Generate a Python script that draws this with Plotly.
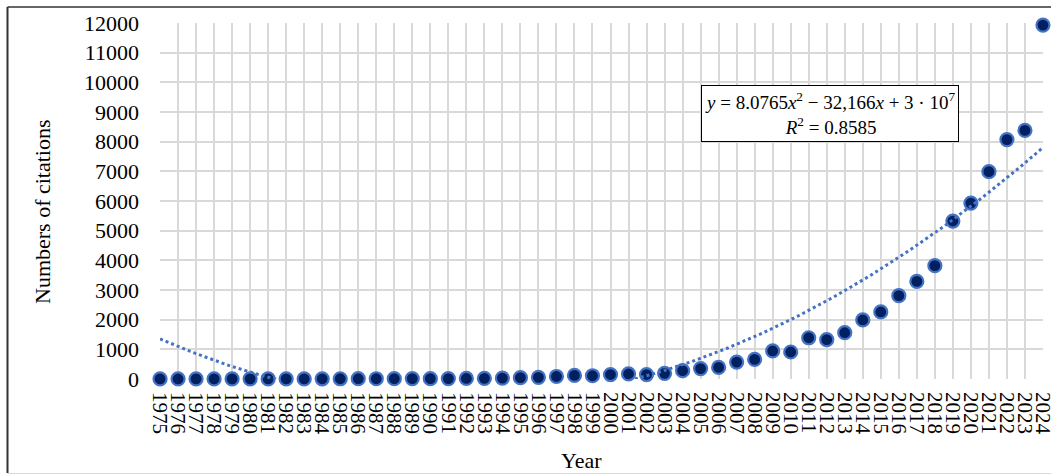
import numpy as np
import plotly.graph_objects as go

years = list(range(1975, 2025))
citations = [2, 1, 3, 2, 4, 5, 3, 6, 4, 7, 8, 10, 9, 12, 14, 11, 13, 18, 22, 30,
             45, 55, 85, 120, 110, 150, 170, 150, 190, 280, 350, 390, 570, 660, 945, 910,
             1390, 1325, 1560, 1990, 2260, 2810, 3290, 3820, 5325, 5930, 6990, 8070, 8380, 11930]
y_ticks = list(range(0, 12001, 1000))
equation_text = ("<i>y</i> = 8.0765<i>x</i><sup>2</sup> − 32,166<i>x</i> + 3 · 10<sup>7</sup>"
                 "<br><i>R</i><sup>2</sup> = 0.8585")

# quadratic trendline fitted to the data
coef = np.polyfit(np.array(years, dtype=float), np.array(citations, dtype=float), 2)
tx = np.linspace(years[0], years[-1], 400)
ty = np.polyval(coef, tx)

L, R, T, B = 160, 1043, 23, 379
W, H = 1051, 475

fig = go.Figure()
fig.add_trace(go.Scatter(
    x=years, y=citations, mode="markers", cliponaxis=False,
    marker=dict(size=13, color="#002060", line=dict(color="#4472C4", width=2.2)),
    showlegend=False, hoverinfo="x+y"))
fig.add_trace(go.Scatter(
    x=tx, y=ty, mode="lines",
    line=dict(color="#4472C4", width=3, dash="dot"),
    showlegend=False, hoverinfo="skip"))

serif = "Liberation Serif, Times New Roman, serif"
fig.update_layout(
    width=W, height=H,
    margin=dict(l=L, r=W - R, t=T, b=H - B),
    paper_bgcolor="white", plot_bgcolor="white",
    font=dict(family=serif, color="black"),
    xaxis=dict(
        range=[years[0] - 0.002, years[-1] + 0.002], tickmode="array", tickvals=years,
        ticktext=[str(y) for y in years], tickangle=90,
        tickfont=dict(family=serif, size=21, color="black"),
        showgrid=True, gridcolor="#d9d9d9", gridwidth=1.5,
        zeroline=False, showline=False, ticks="", automargin=False,
        ticklabelstandoff=12, ticklabeloverflow="allow"),
    yaxis=dict(
        range=[0, 12000], tickmode="array", tickvals=y_ticks,
        ticktext=[str(v) for v in y_ticks],
        tickfont=dict(family=serif, size=22, color="black"),
        showgrid=True, gridcolor="#d9d9d9", gridwidth=1.5,
        zeroline=False, showline=False, ticks="", automargin=False,
        ticklabelstandoff=20),
    shapes=[
        dict(type="line", xref="paper", yref="paper",
             x0=(7.5 - L) / (R - L), x1=(W + 5 - L) / (R - L),
             y0=(B - 7) / (B - T), y1=(B - 7) / (B - T),
             line=dict(color="#333333", width=1.5)),
        dict(type="line", xref="paper", yref="paper",
             x0=(7.5 - L) / (R - L), x1=(7.5 - L) / (R - L),
             y0=(B - 7) / (B - T), y1=(B - 473) / (B - T),
             line=dict(color="#333333", width=2)),
        dict(type="line", xref="paper", yref="paper",
             x0=(7.5 - L) / (R - L), x1=(W + 5 - L) / (R - L),
             y0=(B - 473.5) / (B - T), y1=(B - 473.5) / (B - T),
             line=dict(color="#d9d9d9", width=1)),
    ],
    annotations=[
        dict(text=equation_text, xref="paper", yref="paper",
             x=(830 - L) / (R - L), y=(B - 113.5) / (B - T),
             xanchor="center", yanchor="middle", showarrow=False,
             font=dict(family=serif, size=19, color="black"),
             bordercolor="black", borderwidth=1, borderpad=3,
             bgcolor="white", align="center"),
        dict(text="Numbers of citations", xref="paper", yref="paper",
             x=(43 - L) / (R - L), y=(B - 211) / (B - T), textangle=-90,
             xanchor="center", yanchor="middle", showarrow=False,
             font=dict(family=serif, size=22, color="black")),
        dict(text="Year", xref="paper", yref="paper",
             x=(581 - L) / (R - L), y=(B - 460) / (B - T),
             xanchor="center", yanchor="middle", showarrow=False,
             font=dict(family=serif, size=22, color="black")),
    ],
)

fig.write_html("out.html", config={"displayModeBar": False},
               post_script="document.body.style.margin='0';")
